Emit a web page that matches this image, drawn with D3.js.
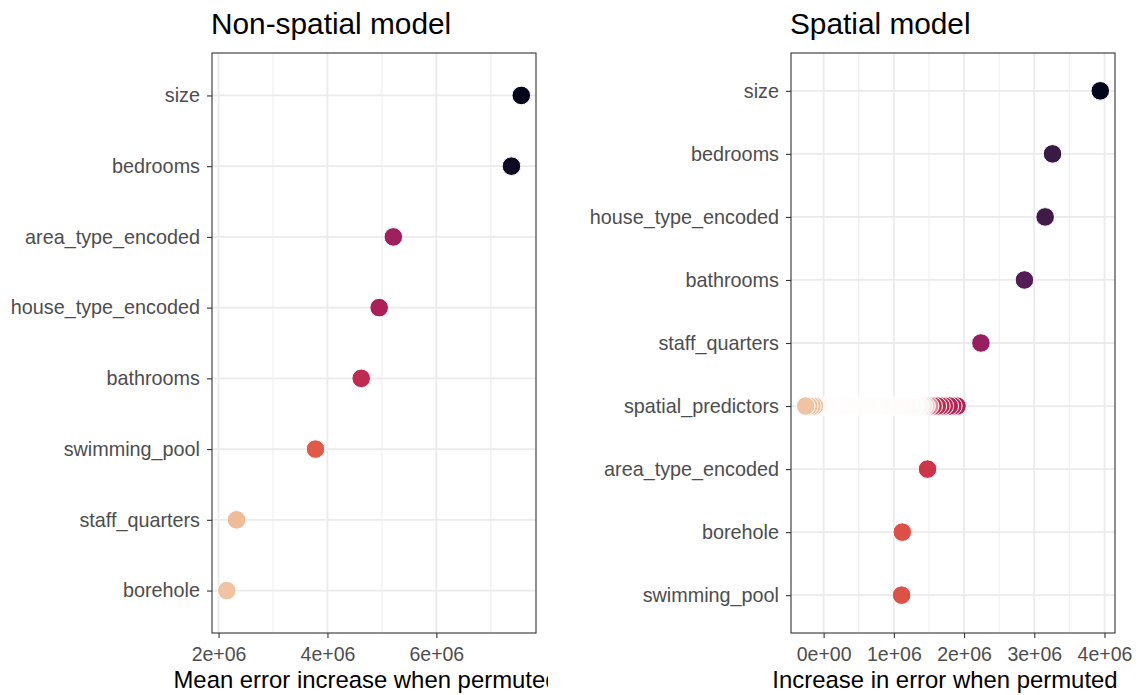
<!DOCTYPE html>
<html><head><meta charset="utf-8">
<script src="https://cdn.jsdelivr.net/npm/d3@7"></script>
<style>body{margin:0;background:#fff}svg{display:block}text{font-family:"Liberation Sans",Arial,sans-serif}</style>
</head><body><svg id="c" width="1143" height="695"></svg>
<script>
// ---- data ----
const nonSpatialVars = ["size","bedrooms","area_type_encoded","house_type_encoded","bathrooms","swimming_pool","staff_quarters","borehole"];
const nonSpatialValues = [7.56e6, 7.38e6, 5.21e6, 4.95e6, 4.62e6, 3.78e6, 2.33e6, 2.15e6];
const nonSpatialTicks = [2e6, 4e6, 6e6];

const spatialVars = ["size","bedrooms","house_type_encoded","bathrooms","staff_quarters","spatial_predictors","area_type_encoded","borehole","swimming_pool"];
const spatialValues = [3.94e6, 3.26e6, 3.155e6, 2.86e6, 2.24e6, null, 1.48e6, 1.12e6, 1.11e6];
const spatialPredictorValues = [1.90e6,1.84e6,1.79e6,1.72e6,1.67e6,1.62e6,1.56e6,1.51e6,1.46e6,1.42e6,1.37e6,1.30e6,1.21e6,1.13e6,1.02e6,0.94e6,0.85e6,0.73e6,0.66e6,0.54e6,0.46e6,0.37e6,0.28e6,0.20e6,0.11e6,0.04e6,-0.03e6,-0.13e6,-0.167e6,-0.21e6,-0.255e6];
const spatialPredictorAlpha  = [1,1,1,1,1,1,1,0.55,0.25,0.12,0.05,0.02,0.02,0.02,0.02,0.02,0.02,0.02,0.02,0.02,0.02,0.02,0.02,0.02,0.02,0.03,0.05,1,1,1,1];
const spatialTicks = [0, 1e6, 2e6, 3e6, 4e6];

const titles = ["Non-spatial model","Spatial model"];
const xTitles = ["Mean error increase when permuted","Increase in error when permuted"];

// ---- palette (rocket-like, dark = most important) ----
const palStops = [0,0.15,0.27,0.40,0.50,0.60,0.70,0.80,0.90,1];
const palCols = ["#03051A","#361A42","#561E58","#951F61","#B51F55","#D3364A","#E05A45","#EB8261","#EFA886","#F0C4A2"];
const pal = d3.scaleLinear().domain(palStops).range(palCols).interpolate(d3.interpolateRgb);

const svg = d3.select("#c");
const defs = svg.append("defs");
defs.append("clipPath").attr("id","clipL").append("rect").attr("x",0).attr("y",0).attr("width",548).attr("height",695);

function fmt(v){ // R style scientific
  const exp = v===0?0:Math.floor(Math.log10(Math.abs(v)));
  const m = v===0?0:v/Math.pow(10,exp);
  return m.toFixed(0)+"e"+(exp<0?"-":"+")+String(Math.abs(exp)).padStart(2,"0");
}

function panel(opt){
  const g = svg.append("g");
  if(opt.clip) g.attr("clip-path","url(#"+opt.clip+")");
  const {x0,x1,y0,y1} = opt;
  const ext = d3.extent(opt.points, d=>d.v);
  const pad = (ext[1]-ext[0])*0.05;
  const x = d3.scaleLinear().domain([ext[0]-pad, ext[1]+pad]).range([x0,x1]);
  const y = d3.scalePoint().domain(opt.cats).range([y0,y1]).padding(0.6);
  const col = v => pal((ext[1]-v)/(ext[1]-ext[0]));

  // grid
  const step = opt.ticks[1]-opt.ticks[0];
  const minor = [];
  for(let t=opt.ticks[0]-step/2; t<=x.domain()[1]; t+=step) if(t>=x.domain()[0]) minor.push(t);
  g.selectAll(".gm").data(minor).join("line").attr("x1",d=>x(d)).attr("x2",d=>x(d)).attr("y1",y0).attr("y2",y1)
    .attr("stroke","#EBEBEB").attr("stroke-width",0.9);
  g.selectAll(".gM").data(opt.ticks).join("line").attr("x1",d=>x(d)).attr("x2",d=>x(d)).attr("y1",y0).attr("y2",y1)
    .attr("stroke","#EBEBEB").attr("stroke-width",1.8);
  g.selectAll(".gy").data(opt.cats).join("line").attr("x1",x0).attr("x2",x1).attr("y1",d=>y(d)).attr("y2",d=>y(d))
    .attr("stroke","#EBEBEB").attr("stroke-width",1.8);

  // points (larger values drawn first)
  const pts = opt.points.slice().sort((a,b)=>b.v-a.v);
  g.selectAll(".pt").data(pts).join("circle")
    .attr("cx",d=>x(d.v)).attr("cy",d=>y(d.cat)).attr("r",9.3)
    .attr("fill",d=>d3.interpolateRgb("#ffffff", col(d.v))(d.a))
    .attr("stroke","#ffffff").attr("stroke-width",1);

  // border
  g.append("rect").attr("x",x0).attr("y",y0).attr("width",x1-x0).attr("height",y1-y0)
    .attr("fill","none").attr("stroke","#333333").attr("stroke-width",1.1);

  // x axis
  const ax = g.append("g").attr("transform",`translate(0,${y1})`)
    .call(d3.axisBottom(x).tickValues(opt.ticks).tickFormat(fmt).tickSize(5).tickPadding(9));
  ax.select(".domain").remove();
  ax.selectAll(".tick line").attr("stroke","#333333").attr("stroke-width",1.1);
  ax.selectAll(".tick text").attr("fill","#4D4D4D").style("font-size","19.5px").attr("dy","0.71em")
    .style("font-family","'Liberation Sans',Arial,sans-serif");
  // y axis
  const ay = g.append("g").attr("transform",`translate(${x0},0)`)
    .call(d3.axisLeft(y).tickSize(5).tickPadding(7));
  ay.select(".domain").remove();
  ay.selectAll(".tick line").attr("stroke","#333333").attr("stroke-width",1.1);
  ay.selectAll(".tick text").attr("fill","#4D4D4D").style("font-size","19.8px")
    .style("font-family","'Liberation Sans',Arial,sans-serif");

  // titles
  g.append("text").attr("x",x0-1).attr("y",34).text(opt.title).attr("fill","#000").style("font-size","29.8px");
  g.append("text").attr("x",(x0+x1)/2-8).attr("y",687.5).attr("text-anchor","middle").text(opt.xTitle)
    .attr("fill","#000").style("font-size","23.9px");
}

panel({x0:212,x1:536,y0:53,y1:633,clip:"clipL",
  cats:nonSpatialVars, ticks:nonSpatialTicks, title:titles[0], xTitle:xTitles[0],
  points: nonSpatialVars.map((c,i)=>({cat:c, v:nonSpatialValues[i], a:1}))});

const spPoints = [];
spatialVars.forEach((c,i)=>{ if(spatialValues[i]!==null) spPoints.push({cat:c, v:spatialValues[i], a:1}); });
spatialPredictorValues.forEach((v,i)=>spPoints.push({cat:"spatial_predictors", v, a:spatialPredictorAlpha[i]}));
panel({x0:791,x1:1115,y0:53,y1:633,
  cats:spatialVars, ticks:spatialTicks, title:titles[1], xTitle:xTitles[1], points: spPoints});
</script></body></html>
